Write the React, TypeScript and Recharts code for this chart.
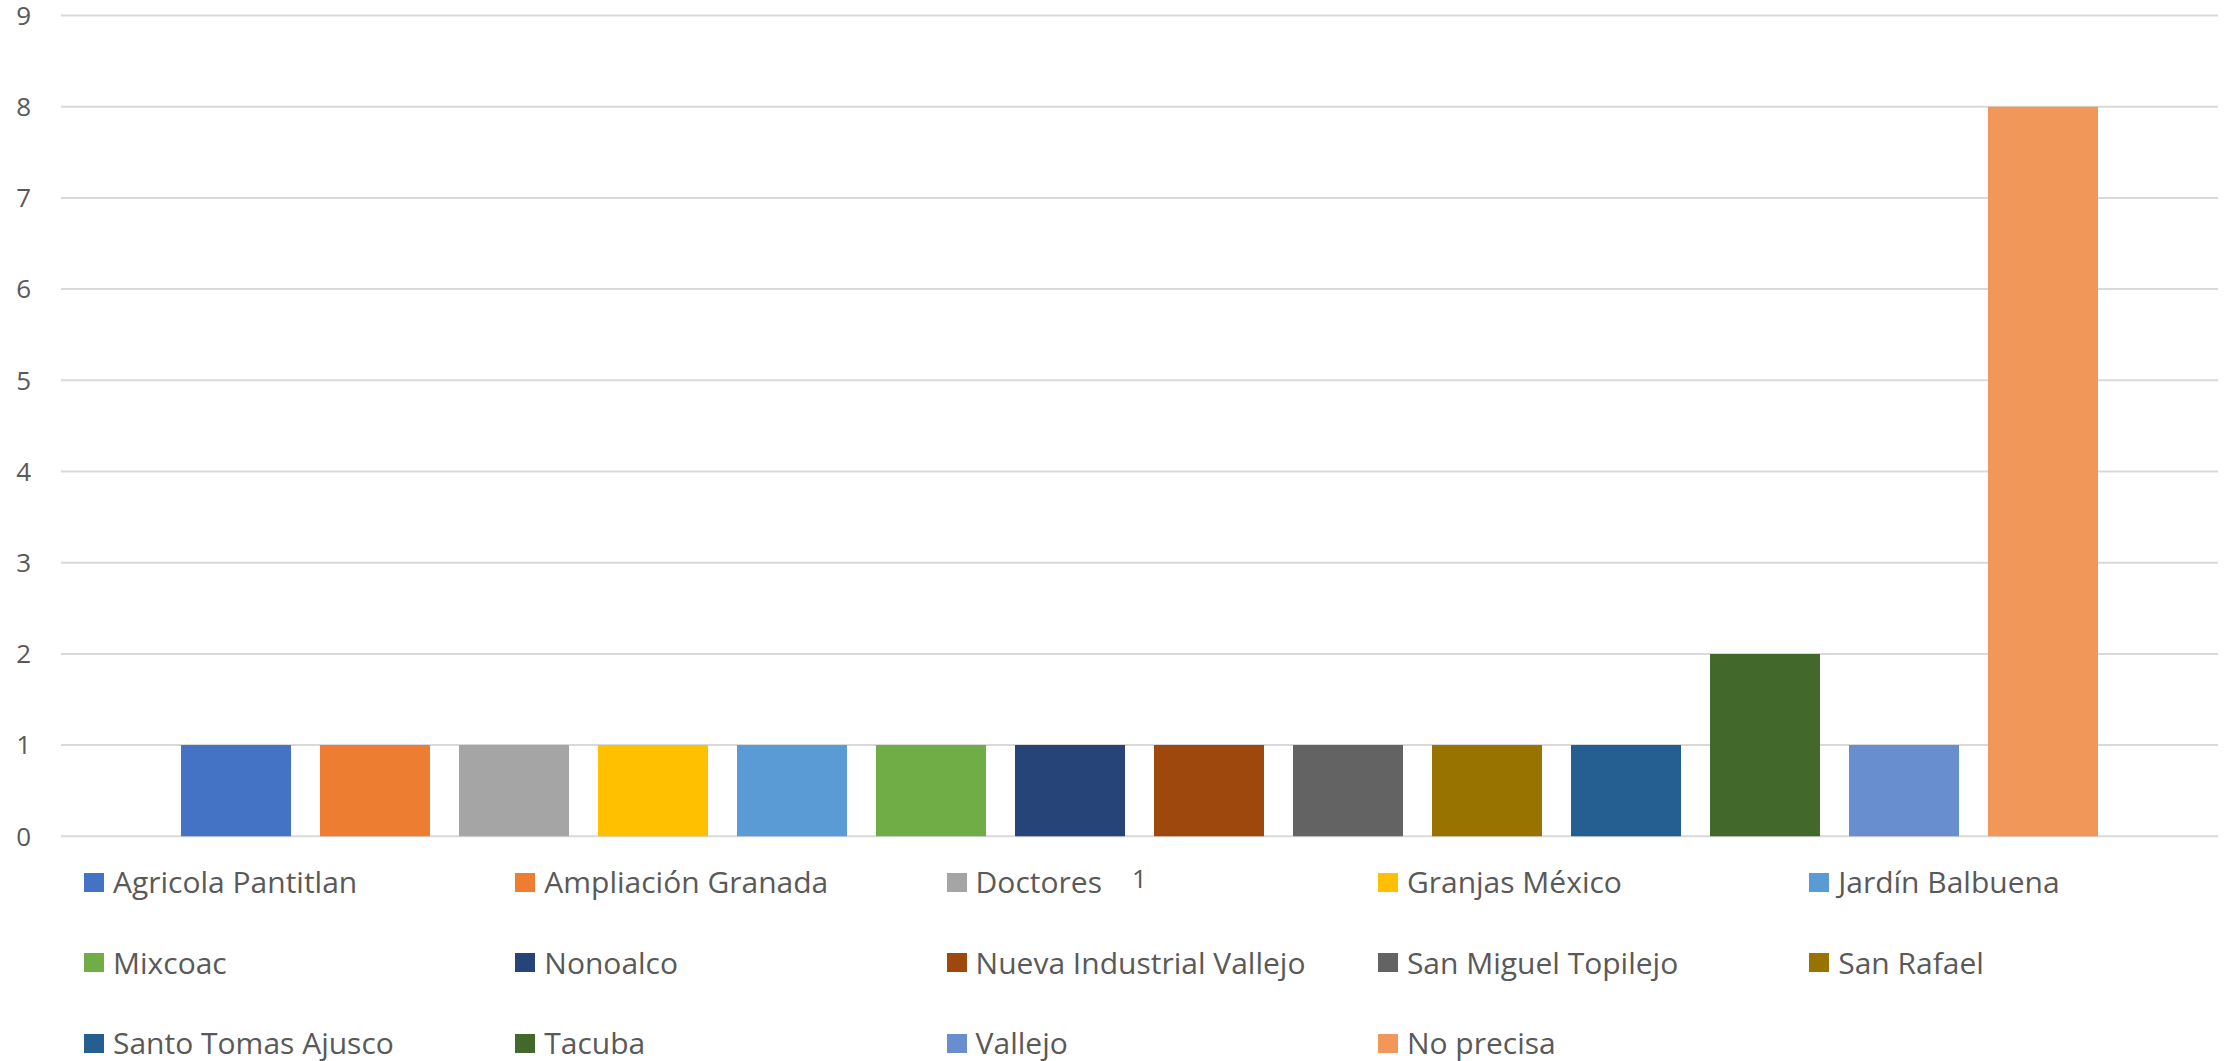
import { BarChart, Bar, XAxis, YAxis, CartesianGrid, Legend } from "recharts";

const CATEGORIES = ["1"];

const SERIES = [
  "Agricola Pantitlan",
  "Ampliación Granada",
  "Doctores",
  "Granjas México",
  "Jardín Balbuena",
  "Mixcoac",
  "Nonoalco",
  "Nueva Industrial Vallejo",
  "San Miguel Topilejo",
  "San Rafael",
  "Santo Tomas Ajusco",
  "Tacuba",
  "Vallejo",
  "No precisa",
];

const VALUES = [1, 1, 1, 1, 1, 1, 1, 1, 1, 1, 1, 2, 1, 8];

const COLORS = [
  "#4472C4",
  "#ED7D31",
  "#A5A5A5",
  "#FFC000",
  "#5B9BD5",
  "#70AD47",
  "#264478",
  "#9E480E",
  "#636363",
  "#997300",
  "#255E91",
  "#43682B",
  "#698ED0",
  "#F1975A",
];

const Y_TICKS = [0, 1, 2, 3, 4, 5, 6, 7, 8, 9];

const FONT = "'Open Sans', sans-serif";
const TEXT = "#595959";

// one row per category, one key per series
const data = CATEGORIES.map((cat, ci) => {
  const row: Record<string, string | number> = { name: cat };
  SERIES.forEach((s, i) => {
    row[s] = ci === 0 ? VALUES[i] : 0;
  });
  return row;
});

function LegendGrid() {
  return (
    <div
      style={{
        display: "grid",
        gridTemplateColumns: "repeat(5, 431.3px)",
        gridAutoRows: "80.5px",
        paddingLeft: 84,
        fontFamily: FONT,
        fontSize: 30,
        color: TEXT,
      }}
    >
      {SERIES.map((s, i) => (
        <div
          key={s}
          style={{ display: "flex", alignItems: "center", whiteSpace: "nowrap" }}
        >
          <span
            style={{
              display: "inline-block",
              width: 20,
              height: 19,
              background: COLORS[i],
              marginRight: 9,
              flex: "none",
            }}
          />
          <span style={{ lineHeight: 1 }}>{s}</span>
        </div>
      ))}
    </div>
  );
}

export default function App() {
  return (
    <div
      style={{
        position: "absolute",
        left: 0,
        top: 0,
        width: 2226,
        height: 1061,
        background: "#fff",
      }}
    >
      <BarChart
        width={2226}
        height={1061}
        data={data}
        margin={{ top: 15.5, right: 8, bottom: 164.7, left: 0 }}
        barCategoryGap={120}
        barGap={29}
      >
        <CartesianGrid
          vertical={false}
          stroke="#D9D9D9"
          strokeWidth={2}
        />
        <XAxis
          dataKey="name"
          axisLine={false}
          tickLine={false}
          tickSize={0}
          tickMargin={33}
          height={60}
          tick={{ fill: TEXT, fontSize: 26, fontFamily: FONT }}
        />
        <YAxis
          domain={[0, 9]}
          ticks={Y_TICKS}
          interval={0}
          width={61}
          axisLine={false}
          tickLine={false}
          tickSize={0}
          tickMargin={30}
          tick={{ fill: TEXT, fontSize: 26, fontFamily: FONT }}
        />
        <Legend
          layout="horizontal"
          verticalAlign="middle"
          align="center"
          wrapperStyle={{ top: 842, left: 0, width: 2226 }}
          content={() => <LegendGrid />}
        />
        {SERIES.map((s, i) => (
          <Bar
            key={s}
            dataKey={s}
            name={s}
            fill={COLORS[i]}
            isAnimationActive={false}
          />
        ))}
      </BarChart>
    </div>
  );
}
